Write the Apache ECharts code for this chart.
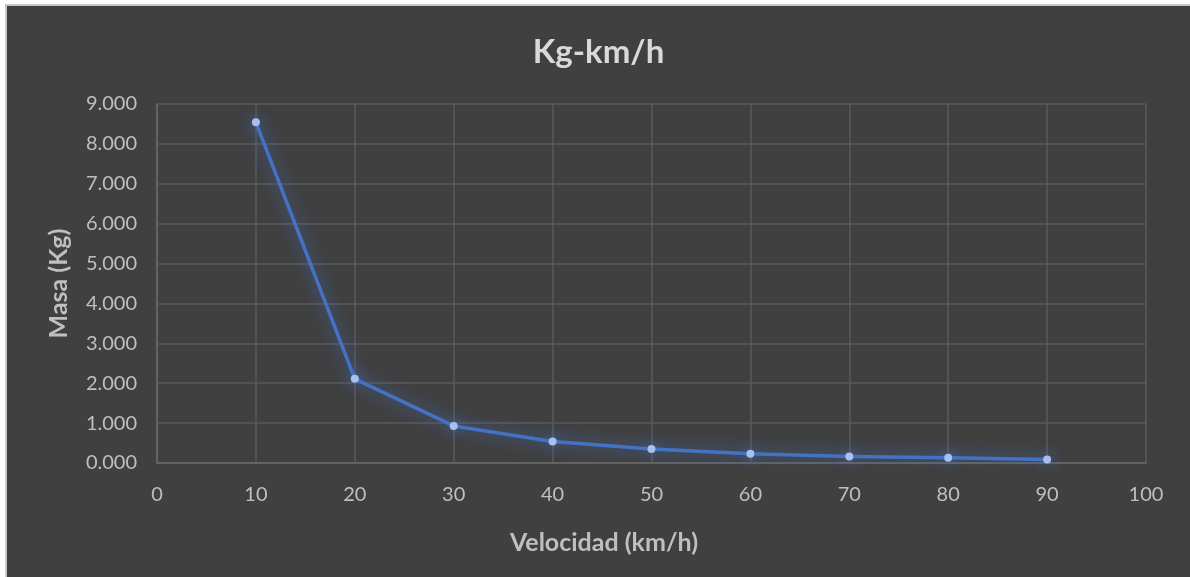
<!DOCTYPE html>
<html>
<head>
<meta charset="utf-8">
<script src="https://cdn.jsdelivr.net/npm/echarts@6/dist/echarts.min.js"></script>
<style>
  html, body { margin: 0; padding: 0; background: #ffffff; width: 1190px; height: 577px; overflow: hidden; }
  #frame { position: absolute; left: 5px; top: 4px; width: 1185px; height: 573px; background: #c8c8c8; }
  #chart { position: absolute; left: 7px; top: 6px; width: 1183px; height: 571px; background: #404040; }
</style>
</head>
<body>
<div id="frame"></div>
<div id="chart"></div>
<script>
const titleText = 'Kg-km/h';
const xAxisName = 'Velocidad (km/h)';
const yAxisName = 'Masa (Kg)';
const velocidad = [10, 20, 30, 40, 50, 60, 70, 80, 90];
const masa = [8.54, 2.11, 0.93, 0.54, 0.35, 0.23, 0.16, 0.13, 0.09];

const chart = echarts.init(document.getElementById('chart'), null, { renderer: 'canvas' });
const font = 'Lato, "Open Sans", sans-serif';
chart.setOption({
  backgroundColor: '#404040',
  animation: false,
  title: {
    text: titleText,
    left: 'center',
    top: 25,
    textStyle: { color: '#d9d9d9', fontSize: 33, fontWeight: 'bold', fontFamily: font }
  },
  graphic: [{
    type: 'text',
    x: 597, y: 537,
    style: {
      text: xAxisName, fill: '#bfbfbf', font: 'bold 25px ' + font,
      textAlign: 'center', textVerticalAlign: 'middle'
    }
  }],
  grid: { left: 150, right: 44, top: 98, bottom: 114, containLabel: false },
  xAxis: {
    type: 'value', min: 0, max: 100, interval: 10,
    axisLine: { show: true, lineStyle: { color: '#6a6a6a', width: 1.5 } },
    axisTick: { show: false },
    axisLabel: { color: '#bfbfbf', fontSize: 20, margin: 22, fontFamily: font },
    splitLine: { show: true, lineStyle: { color: '#5a5a5a', width: 1.5 } }
  },
  yAxis: {
    type: 'value', min: 0, max: 9, interval: 1,
    name: yAxisName, nameLocation: 'middle', nameGap: 86,
    nameTextStyle: { color: '#bfbfbf', fontSize: 25, fontWeight: 'bold', fontFamily: font },
    axisLine: { show: true, lineStyle: { color: '#6a6a6a', width: 1.5 } },
    axisTick: { show: false },
    axisLabel: { color: '#bfbfbf', fontSize: 20, margin: 20, fontFamily: font,
      formatter: v => v.toFixed(3) },
    splitLine: { show: true, lineStyle: { color: '#5a5a5a', width: 1.5 } }
  },
  series: [{
    type: 'line',
    data: velocidad.map((v, i) => [v, masa[i]]),
    symbol: 'circle',
    symbolSize: 8,
    lineStyle: { color: '#4472c4', width: 3.5, shadowColor: 'rgba(68,114,196,0.95)', shadowBlur: 16 },
    itemStyle: { color: '#a9bfee', shadowColor: 'rgba(68,114,196,1)', shadowBlur: 14 }
  }]
});
</script>
</body>
</html>
